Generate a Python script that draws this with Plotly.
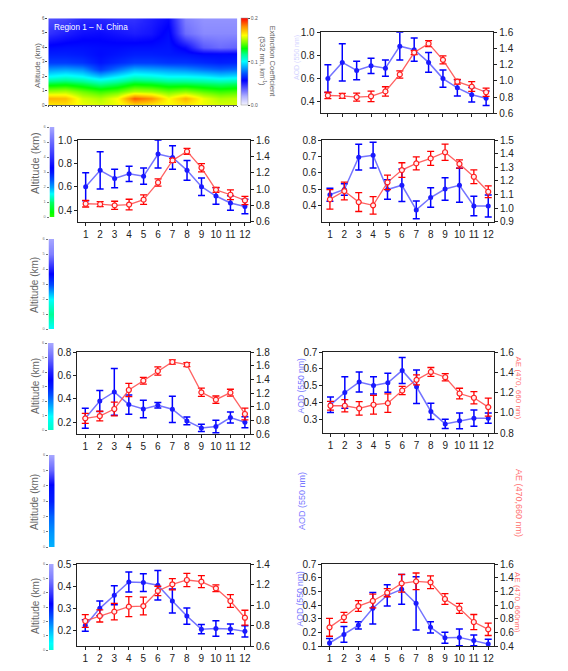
import plotly.graph_objects as go

W, H = 568, 671
FONT = "Liberation Sans, Arial, sans-serif"

months = list(range(1, 13))
month_labels = [str(m) for m in months]

# ---------------- heat map (Region 1 - N. China) ----------------
hm_alt = [0, 0.5, 1, 1.5, 2, 2.5, 3, 3.5, 4, 5, 6]
hm_ext = [
    [0.162, 0.165, 0.158, 0.155, 0.158, 0.165, 0.162, 0.160, 0.163, 0.158, 0.155, 0.155],
    [0.174, 0.172, 0.155, 0.150, 0.160, 0.188, 0.180, 0.160, 0.174, 0.158, 0.150, 0.152],
    [0.148, 0.150, 0.142, 0.136, 0.140, 0.150, 0.148, 0.142, 0.146, 0.140, 0.136, 0.138],
    [0.124, 0.126, 0.122, 0.115, 0.120, 0.128, 0.126, 0.122, 0.122, 0.120, 0.118, 0.120],
    [0.100, 0.104, 0.100, 0.090, 0.098, 0.106, 0.104, 0.100, 0.100, 0.098, 0.094, 0.096],
    [0.084, 0.086, 0.083, 0.068, 0.078, 0.088, 0.086, 0.084, 0.082, 0.078, 0.075, 0.077],
    [0.068, 0.068, 0.066, 0.060, 0.064, 0.068, 0.068, 0.066, 0.066, 0.064, 0.062, 0.063],
    [0.062, 0.062, 0.061, 0.058, 0.060, 0.062, 0.062, 0.061, 0.060, 0.058, 0.058, 0.058],
    [0.058, 0.059, 0.059, 0.058, 0.058, 0.059, 0.059, 0.060, 0.054, 0.038, 0.034, 0.036],
    [0.046, 0.050, 0.053, 0.054, 0.052, 0.050, 0.052, 0.058, 0.034, 0.028, 0.028, 0.028],
    [0.040, 0.042, 0.048, 0.048, 0.046, 0.046, 0.050, 0.054, 0.030, 0.026, 0.026, 0.026],
]
cbar_ticks = [0.0, 0.1, 0.2]
alt_ticks = [0, 1, 2, 3, 4, 5, 6]

# narrow profile strips at the left of rows 2-6 (altitude 0..6 km)
strip_alt = [0, 1, 2, 3, 4, 5, 6]
strip_row2 = [0.135, 0.120, 0.085, 0.060, 0.047, 0.035, 0.022]
strip_row3 = [0.100, 0.115, 0.100, 0.070, 0.050, 0.030, 0.022]
strip_row4 = [0.108, 0.100, 0.080, 0.062, 0.050, 0.035, 0.022]
strip_row5 = [0.088, 0.083, 0.075, 0.062, 0.058, 0.035, 0.022]
strip_row6 = [0.105, 0.095, 0.078, 0.060, 0.045, 0.030, 0.022]

# ---------------- monthly AOD / AE series ----------------
a_aod = [0.60, 0.74, 0.67, 0.71, 0.69, 0.88, 0.85, 0.74, 0.60, 0.52, 0.46, 0.43]
a_aod_err = [0.12, 0.16, 0.08, 0.065, 0.07, 0.12, 0.10, 0.085, 0.075, 0.07, 0.062, 0.062]
a_ae = [0.82, 0.815, 0.80, 0.81, 0.87, 1.08, 1.35, 1.46, 1.26, 0.99, 0.93, 0.86]
a_ae_err = [0.04, 0.03, 0.05, 0.065, 0.058, 0.045, 0.025, 0.037, 0.05, 0.03, 0.06, 0.05]

b_aod = [0.465, 0.497, 0.695, 0.707, 0.497, 0.523, 0.372, 0.448, 0.50, 0.523, 0.396, 0.396]
b_aod_err = [0.04, 0.035, 0.079, 0.079, 0.06, 0.10, 0.054, 0.06, 0.069, 0.104, 0.059, 0.068]
b_ae = [1.064, 1.125, 1.044, 1.02, 1.189, 1.279, 1.328, 1.365, 1.41, 1.324, 1.23, 1.12]
b_ae_err = [0.071, 0.065, 0.069, 0.064, 0.053, 0.054, 0.048, 0.051, 0.06, 0.03, 0.051, 0.043]

c_aod = [0.235, 0.382, 0.459, 0.351, 0.314, 0.345, 0.311, 0.212, 0.152, 0.164, 0.24, 0.20]
c_aod_err = [0.085, 0.09, 0.20, 0.082, 0.075, 0.023, 0.112, 0.033, 0.031, 0.054, 0.047, 0.047]
c_ae = [0.829, 0.863, 0.966, 1.244, 1.38, 1.522, 1.654, 1.615, 1.21, 1.102, 1.205, 0.893]
c_ae_err = [0.073, 0.07, 0.10, 0.098, 0.05, 0.06, 0.03, 0.03, 0.06, 0.054, 0.05, 0.085]

d_aod = [0.387, 0.46, 0.522, 0.502, 0.518, 0.591, 0.494, 0.348, 0.274, 0.292, 0.308, 0.308]
d_aod_err = [0.046, 0.094, 0.059, 0.051, 0.056, 0.077, 0.099, 0.048, 0.027, 0.047, 0.048, 0.03]
d_ae = [1.069, 1.069, 1.043, 1.079, 1.095, 1.22, 1.325, 1.403, 1.351, 1.19, 1.148, 1.056]
d_ae_err = [0.044, 0.06, 0.067, 0.093, 0.092, 0.04, 0.05, 0.044, 0.036, 0.052, 0.06, 0.089]

e_aod = [0.223, 0.30, 0.359, 0.419, 0.416, 0.404, 0.333, 0.265, 0.206, 0.209, 0.207, 0.196]
e_aod_err = [0.026, 0.033, 0.043, 0.045, 0.04, 0.067, 0.054, 0.037, 0.021, 0.035, 0.022, 0.025]
e_ae = [0.844, 0.893, 0.935, 0.984, 0.99, 1.137, 1.202, 1.244, 1.228, 1.163, 1.039, 0.876]
e_ae_err = [0.063, 0.059, 0.081, 0.098, 0.086, 0.046, 0.055, 0.065, 0.059, 0.033, 0.063, 0.073]

f_aod = [0.122, 0.185, 0.251, 0.376, 0.471, 0.515, 0.412, 0.237, 0.161, 0.163, 0.141, 0.115]
f_aod_err = [0.033, 0.057, 0.026, 0.115, 0.078, 0.109, 0.195, 0.041, 0.04, 0.061, 0.039, 0.034]
f_ae = [0.673, 0.82, 0.985, 1.059, 1.18, 1.317, 1.346, 1.332, 1.088, 0.951, 0.751, 0.644]
f_ae_err = [0.13, 0.073, 0.078, 0.10, 0.059, 0.13, 0.122, 0.093, 0.078, 0.073, 0.11, 0.09]

AOD_TITLE = "AOD (550 nm)"
AE_TITLE = "AE (470, 660 nm)"
ALT_TITLE = "Altitude (km)"

colorscale = [
    [0.00, "#f4f4ff"], [0.10, "#b0b0ff"], [0.20, "#5050ff"], [0.28, "#0000ff"],
    [0.36, "#0050ff"], [0.45, "#00c0ff"], [0.50, "#00ffff"], [0.58, "#00ff90"],
    [0.65, "#00ff00"], [0.72, "#80ff00"], [0.80, "#ffff00"], [0.90, "#ff9000"],
    [1.00, "#ff0000"],
]

fig = go.Figure()
layout = dict(width=W, height=H,
              margin=dict(l=0, r=0, t=0, b=0, pad=0, autoexpand=False),
              paper_bgcolor="white", plot_bgcolor="white", showlegend=False,
              font=dict(family=FONT, color="#222"))
annotations = []
counter = [0]


def dom(l, t, r, b):
    return [l / W, r / W], [1 - b / H, 1 - t / H]


def new_ax():
    counter[0] += 1
    return counter[0]


def axname(kind, n):
    return f"{kind}axis" if n == 1 else f"{kind}axis{n}"


def ref(kind, n):
    return kind if n == 1 else f"{kind}{n}"


def label(text, px, py, angle, size, color, xanchor="center"):
    annotations.append(dict(text=text, x=px / W, y=1 - py / H, xref="paper", yref="paper",
                            xanchor=xanchor, yanchor="middle", textangle=angle,
                            showarrow=False, font=dict(size=size, color=color, family=FONT)))


# ---- heat map ----
n = new_ax()
xd, yd = dom(48.3, 18.3, 237.3, 105.3)
fig.add_trace(go.Heatmap(
    x=months, y=hm_alt, z=hm_ext, colorscale=colorscale, zmin=0, zmax=0.2,
    zsmooth="best", xaxis=ref("x", n), yaxis=ref("y", n),
    colorbar=dict(x=240.7 / W, xanchor="left", y=1 - 61.8 / H, yanchor="middle",
                  len=87 / H, lenmode="fraction", thickness=7,
                  tickvals=cbar_ticks, ticktext=[f"{v:.1f}" for v in cbar_ticks],
                  tickfont=dict(size=5, color="#555"), ticks="outside", ticklen=2,
                  outlinewidth=0.5, outlinecolor="#999", xpad=0, ypad=0)))
layout[axname("x", n)] = dict(domain=xd, anchor=ref("y", n), range=[1, 12],
                              showticklabels=False, showgrid=False, zeroline=False,
                              showline=True, linecolor="#555", linewidth=1,
                              ticks="outside", ticklen=1, dtick=0.25, tickcolor="#555",
                              automargin=False)
layout[axname("y", n)] = dict(domain=yd, anchor=ref("x", n), range=[0, 6],
                              tickvals=alt_ticks, tickfont=dict(size=4.5, color="#555"),
                              ticks="outside", ticklen=2, showgrid=False, zeroline=False,
                              showline=False, automargin=False)
label("Region 1 \u2013 N. China", 52, 27.3, 0, 8.2, "white", xanchor="left")
label("Extinction Coefficient<br>(532 nm, km<sup>-1</sup>)", 267, 61.5, 90, 7.6, "#666")
label(ALT_TITLE, 37, 66, -90, 8, "#666")

# ---- narrow strips ----
strips = [
    (strip_row2, (49.5, 127, 54.5, 217), 163, 11),
    (strip_row3, (48.5, 239, 54, 329), 285, 10),
    (strip_row4, (48, 343, 53.5, 430), 386, 10),
    (strip_row5, (49, 455, 54.5, 547), 502, 10),
    (strip_row6, (49, 564, 53.5, 650), 606, 10),
]
for vals, bx, ty, fs in strips:
    n = new_ax()
    xd, yd = dom(*bx)
    fig.add_trace(go.Heatmap(x=[0, 1], y=strip_alt, z=[[v, v] for v in vals],
                             colorscale=colorscale, zmin=0, zmax=0.2, zsmooth="best",
                             showscale=False, xaxis=ref("x", n), yaxis=ref("y", n)))
    layout[axname("x", n)] = dict(domain=xd, anchor=ref("y", n), range=[0, 1],
                                  visible=False, automargin=False)
    layout[axname("y", n)] = dict(domain=yd, anchor=ref("x", n), range=[0, 6],
                                  tickvals=alt_ticks, tickfont=dict(size=4, color="#777"),
                                  ticks="outside", ticklen=2, tickcolor="#777",
                                  showgrid=False, zeroline=False, showline=False,
                                  automargin=False)
    label(ALT_TITLE, 35, ty, -90, fs, "#666")

# ---- line panels ----
panels = [
    (a_aod, a_aod_err, a_ae, a_ae_err, (320.7, 32.3, 493.3, 113.3), [0.5, 12.5],
     [0.3, 1.0], [0.4, 0.6, 0.8, 1.0], [0.6, 1.6], [0.6, 0.8, 1.0, 1.2, 1.4, 1.6], False, None),
    (a_aod, a_aod_err, a_ae, a_ae_err, (78, 140, 250, 221.7), [0.47, 12.35],
     [0.3, 1.0], [0.4, 0.6, 0.8, 1.0], [0.6, 1.6], [0.6, 0.8, 1.0, 1.2, 1.4, 1.6], True, None),
    (b_aod, b_aod_err, b_ae, b_ae_err, (322.3, 140, 494, 221.7), [0.47, 12.4],
     [0.3, 0.8], [0.4, 0.5, 0.6, 0.7, 0.8], [0.9, 1.5], [0.9, 1.0, 1.1, 1.2, 1.3, 1.4, 1.5], True, None),
    (c_aod, c_aod_err, c_ae, c_ae_err, (77.3, 352, 250, 434), [0.45, 12.35],
     [0.1, 0.8], [0.2, 0.4, 0.6, 0.8], [0.6, 1.8], [0.6, 0.8, 1.0, 1.2, 1.4, 1.6, 1.8], True, None),
    (d_aod, d_aod_err, d_ae, d_ae_err, (323.3, 352, 494, 433), [0.5, 12.4],
     [0.22, 0.7], [0.3, 0.4, 0.5, 0.6, 0.7], [0.8, 1.6], [0.8, 1.0, 1.2, 1.4, 1.6], True,
     (300.5, 386, 518.5, 388, AE_TITLE)),
    (e_aod, e_aod_err, e_ae, e_ae_err, (77.3, 564, 250, 646), [0.45, 12.35],
     [0.13, 0.5], [0.2, 0.3, 0.4, 0.5], [0.6, 1.4], [0.6, 0.8, 1.0, 1.2, 1.4], True, None),
    (f_aod, f_aod_err, f_ae, f_ae_err, (322.3, 564, 494, 646), [0.5, 12.4],
     [0.1, 0.7], [0.1, 0.2, 0.3, 0.4, 0.5, 0.6, 0.7], [0.4, 1.6], [0.4, 0.6, 0.8, 1.0, 1.2, 1.4, 1.6], True,
     (299.5, 599, 518, 602, AE_TITLE.replace(" nm", "nm"))),
]

TICKFONT = dict(size=10, color="#222", family=FONT)
for (aod, aod_err, ae, ae_err, bx, xr, lr, lt, rr, rt, xlab, titles) in panels:
    nx = new_ax()
    ny2 = new_ax()
    xd, yd = dom(*bx)
    xr_, yr_, y2r_ = ref("x", nx), ref("y", nx), ref("y", ny2)
    fig.add_trace(go.Scatter(
        x=months, y=aod, mode="lines+markers", xaxis=xr_, yaxis=yr_,
        line=dict(color="rgba(70,70,255,0.75)", width=1.5),
        marker=dict(color="#1a1aff", size=5, symbol="circle"),
        error_y=dict(type="data", array=aod_err, visible=True, color="#0000ff",
                     thickness=1.5, width=3.5), cliponaxis=False))
    fig.add_trace(go.Scatter(
        x=months, y=ae, mode="lines+markers", xaxis=xr_, yaxis=y2r_,
        line=dict(color="rgba(255,70,70,0.85)", width=1.3),
        marker=dict(color="#fff0f0", size=5, symbol="circle",
                    line=dict(color="#ff2020", width=1.2)),
        error_y=dict(type="data", array=ae_err, visible=True, color="#ff0000",
                     thickness=1.3, width=3.5), cliponaxis=False))
    layout[axname("x", nx)] = dict(domain=xd, anchor=yr_, range=xr, tickvals=months,
                                   ticktext=month_labels, showticklabels=xlab,
                                   ticks="outside", ticklen=3, tickcolor="#222",
                                   showline=True, linecolor="#222", linewidth=1, mirror=True,
                                   showgrid=False, zeroline=False, tickfont=TICKFONT,
                                   automargin=False)
    layout[axname("y", nx)] = dict(domain=yd, anchor=xr_, range=lr, tickvals=lt,
                                   tickformat=".1f", ticks="outside", ticklen=3,
                                   tickcolor="#222", showline=True, linecolor="#222",
                                   linewidth=1, showgrid=False, zeroline=False,
                                   tickfont=TICKFONT, automargin=False)
    layout[axname("y", ny2)] = dict(domain=yd, anchor=xr_, overlaying=yr_, side="right",
                                    range=rr, tickvals=rt, tickformat=".1f",
                                    ticks="outside", ticklen=3, tickcolor="#222",
                                    showline=True, linecolor="#222", linewidth=1,
                                    showgrid=False, zeroline=False, tickfont=TICKFONT,
                                    automargin=False)
    if titles:
        ax_, ay_, ex_, ey_, ae_text = titles
        label(AOD_TITLE, ax_, ay_, -90, 8.6, "#7878ff")
        label(ae_text, ex_, ey_, 90, 8, "#ff7070")

# faint, mostly hidden AOD title left of the top-right panel
label(AOD_TITLE, 297, 58, -90, 7, "#d4d4ff")

# row 5: only the axis titles remain
label(AOD_TITLE, 302, 501, -90, 9, "#7878ff")
label(AE_TITLE.replace(", ", ","), 519, 503, 90, 9, "#ff7070")

layout["annotations"] = annotations
fig.update_layout(**layout)
fig.write_html(
    "out.html",
    config={"displayModeBar": False},
    post_script="document.body.style.margin='0';document.body.style.padding='0';"
                "document.body.style.overflow='hidden';",
)
